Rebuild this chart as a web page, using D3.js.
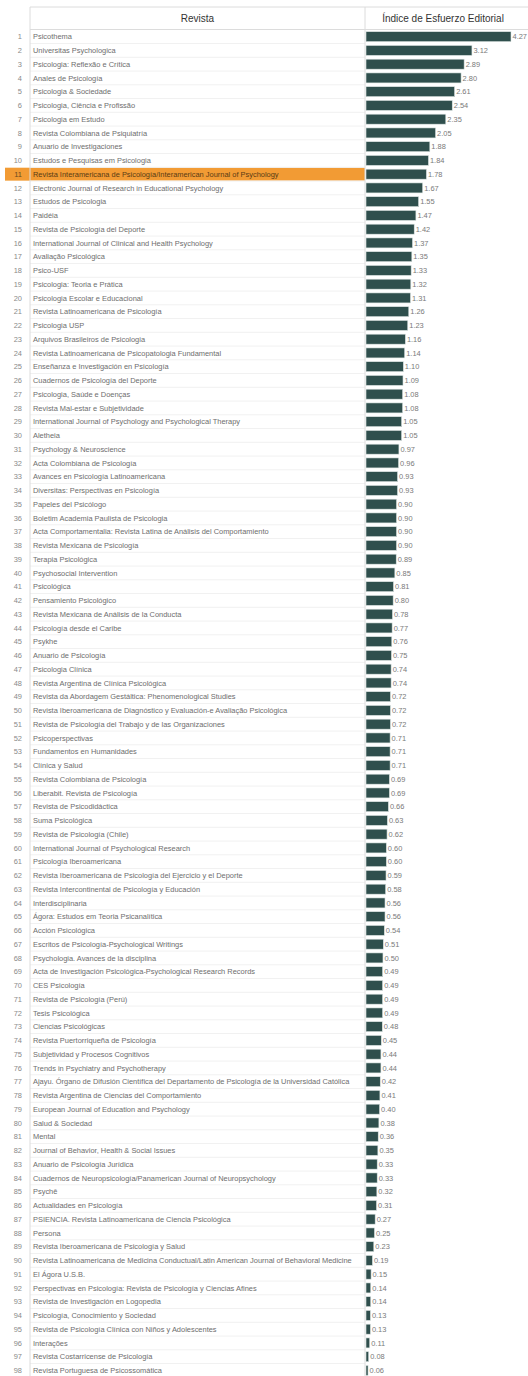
<!DOCTYPE html>
<html>
<head>
<meta charset="utf-8">
<script src="https://cdn.jsdelivr.net/npm/d3@7"></script>
<style>
  html, body { margin: 0; padding: 0; background: #fff; }
  svg { display: block; }
</style>
</head>
<body>
<svg id="chart" width="528" height="1376"></svg>
<script>
const headers = ["Revista", "Índice de Esfuerzo Editorial"];
const highlightRank = 11;
const journals = [
  "Psicothema",
  "Universitas Psychologica",
  "Psicologia: Reflexão e Crítica",
  "Anales de Psicología",
  "Psicologia & Sociedade",
  "Psicologia, Ciência e Profissão",
  "Psicologia em Estudo",
  "Revista Colombiana de Psiquiatría",
  "Anuario de Investigaciones",
  "Estudos e Pesquisas em Psicologia",
  "Revista Interamericana de Psicología/Interamerican Journal of Psychology",
  "Electronic Journal of Research in Educational Psychology",
  "Estudos de Psicologia",
  "Paidéia",
  "Revista de Psicología del Deporte",
  "International Journal of Clinical and Health Psychology",
  "Avaliação Psicológica",
  "Psico-USF",
  "Psicologia: Teoria e Prática",
  "Psicologia Escolar e Educacional",
  "Revista Latinoamericana de Psicología",
  "Psicologia USP",
  "Arquivos Brasileiros de Psicologia",
  "Revista Latinoamericana de Psicopatologia Fundamental",
  "Enseñanza e Investigación en Psicología",
  "Cuadernos de Psicología del Deporte",
  "Psicologia, Saúde e Doenças",
  "Revista Mal-estar e Subjetividade",
  "International Journal of Psychology and Psychological Therapy",
  "Aletheia",
  "Psychology & Neuroscience",
  "Acta Colombiana de Psicología",
  "Avances en Psicología Latinoamericana",
  "Diversitas: Perspectivas en Psicología",
  "Papeles del Psicólogo",
  "Boletim Academia Paulista de Psicologia",
  "Acta Comportamentalia: Revista Latina de Análisis del Comportamiento",
  "Revista Mexicana de Psicología",
  "Terapia Psicológica",
  "Psychosocial Intervention",
  "Psicológica",
  "Pensamiento Psicológico",
  "Revista Mexicana de Análisis de la Conducta",
  "Psicología desde el Caribe",
  "Psykhe",
  "Anuario de Psicología",
  "Psicologia Clínica",
  "Revista Argentina de Clínica Psicológica",
  "Revista da Abordagem Gestáltica: Phenomenological Studies",
  "Revista Iberoamericana de Diagnóstico y Evaluación-e Avaliação Psicológica",
  "Revista de Psicología del Trabajo y de las Organizaciones",
  "Psicoperspectivas",
  "Fundamentos en Humanidades",
  "Clínica y Salud",
  "Revista Colombiana de Psicología",
  "Liberabit. Revista de Psicología",
  "Revista de Psicodidáctica",
  "Suma Psicológica",
  "Revista de Psicología (Chile)",
  "International Journal of Psychological Research",
  "Psicología Iberoamericana",
  "Revista Iberoamericana de Psicología del Ejercicio y el Deporte",
  "Revista Intercontinental de Psicología y Educación",
  "Interdisciplinaria",
  "Ágora: Estudos em Teoria Psicanalítica",
  "Acción Psicológica",
  "Escritos de Psicología-Psychological Writings",
  "Psychologia. Avances de la disciplina",
  "Acta de Investigación Psicológica-Psychological Research Records",
  "CES Psicología",
  "Revista de Psicología (Perú)",
  "Tesis Psicológica",
  "Ciencias Psicológicas",
  "Revista Puertorriqueña de Psicología",
  "Subjetividad y Procesos Cognitivos",
  "Trends in Psychiatry and Psychotherapy",
  "Ajayu. Órgano de Difusión Científica del Departamento de Psicología de la Universidad Católica Boliviana San Pablo",
  "Revista Argentina de Ciencias del Comportamiento",
  "European Journal of Education and Psychology",
  "Salud & Sociedad",
  "Mental",
  "Journal of Behavior, Health & Social Issues",
  "Anuario de Psicología Jurídica",
  "Cuadernos de Neuropsicología/Panamerican Journal of Neuropsychology",
  "Psychê",
  "Actualidades en Psicología",
  "PSIENCIA. Revista Latinoamericana de Ciencia Psicológica",
  "Persona",
  "Revista Iberoamericana de Psicología y Salud",
  "Revista Latinoamericana de Medicina Conductual/Latin American Journal of Behavioral Medicine",
  "El Ágora U.S.B.",
  "Perspectivas en Psicología: Revista de Psicología y Ciencias Afines",
  "Revista de Investigación en Logopedia",
  "Psicología, Conocimiento y Sociedad",
  "Revista de Psicología Clínica con Niños y Adolescentes",
  "Interações",
  "Revista Costarricense de Psicología",
  "Revista Portuguesa de Psicossomática"
];
const values = [
  4.27, 3.12, 2.89, 2.80, 2.61, 2.54, 2.35, 2.05, 1.88, 1.84,
  1.78, 1.67, 1.55, 1.47, 1.42, 1.37, 1.35, 1.33, 1.32, 1.31,
  1.26, 1.23, 1.16, 1.14, 1.10, 1.09, 1.08, 1.08, 1.05, 1.05,
  0.97, 0.96, 0.93, 0.93, 0.90, 0.90, 0.90, 0.90, 0.89, 0.85,
  0.81, 0.80, 0.78, 0.77, 0.76, 0.75, 0.74, 0.74, 0.72, 0.72,
  0.72, 0.71, 0.71, 0.71, 0.69, 0.69, 0.66, 0.63, 0.62, 0.60,
  0.60, 0.59, 0.58, 0.56, 0.56, 0.54, 0.51, 0.50, 0.49, 0.49,
  0.49, 0.49, 0.48, 0.45, 0.44, 0.44, 0.42, 0.41, 0.40, 0.38,
  0.36, 0.35, 0.33, 0.33, 0.32, 0.31, 0.27, 0.25, 0.23, 0.19,
  0.15, 0.14, 0.14, 0.13, 0.13, 0.11, 0.08, 0.06
];
const ranks = journals.map((_, i) => i + 1);

const rows = ranks.map((r, i) => ({ rank: r, name: journals[i], value: values[i] }));

const svg = d3.select("#chart");
const W = 528;
const colLeft = 30, colDiv = 365, headTop = 7, headBottom = 29.5;
const font = "'Liberation Sans', Arial, sans-serif";
const fs = 7.45;

const y = d3.scaleBand().domain(ranks).range([29.8, 1377.3]).paddingInner(0);
const x = d3.scaleLinear().domain([0, d3.max(values)]).range([colDiv + 1, 511]);
const step = y.step();
const barH = 10;

// highlight row
const hl = rows.find(d => d.rank === highlightRank);
svg.append("rect")
  .attr("x", 5).attr("y", y(hl.rank) + 0.4)
  .attr("width", colDiv - 5).attr("height", step - 0.8)
  .attr("fill", "#f29b34");

// row separators
svg.append("g").selectAll("line").data(rows).join("line")
  .attr("x1", colLeft).attr("x2", colDiv)
  .attr("y1", d => y(d.rank) + step).attr("y2", d => y(d.rank) + step)
  .attr("stroke", "#f1f1f1").attr("stroke-width", 1);

// header frame
svg.append("line").attr("x1", colLeft).attr("x2", W).attr("y1", headTop).attr("y2", headTop)
  .attr("stroke", "#dcdcdc");
svg.append("line").attr("x1", colLeft).attr("x2", W).attr("y1", headBottom).attr("y2", headBottom)
  .attr("stroke", "#dcdcdc");
svg.append("line").attr("x1", colLeft).attr("x2", colLeft).attr("y1", headTop).attr("y2", 1376)
  .attr("stroke", "#dcdcdc");
svg.append("line").attr("x1", colDiv).attr("x2", colDiv).attr("y1", headTop).attr("y2", 1376)
  .attr("stroke", "#dcdcdc");

svg.append("text").attr("x", (colLeft + colDiv) / 2).attr("y", 22)
  .attr("text-anchor", "middle").attr("font-family", font).attr("font-size", 10)
  .attr("fill", "#333").text(headers[0]);
svg.append("text").attr("x", 443).attr("y", 22)
  .attr("text-anchor", "middle").attr("font-family", font).attr("font-size", 10)
  .attr("fill", "#333").text(headers[1]);

// rank numbers
svg.append("g").selectAll("text").data(rows).join("text")
  .attr("x", 22).attr("y", d => y(d.rank) + step / 2 + 2.6)
  .attr("text-anchor", "end").attr("font-family", font).attr("font-size", fs)
  .attr("fill", d => d.rank === highlightRank ? "#6a4a20" : "#8a8a8a")
  .text(d => d.rank);

// clip paths per row for names (wrapping)
const defs = svg.append("defs");
defs.selectAll("clipPath").data(rows).join("clipPath")
  .attr("id", d => "clip" + d.rank)
  .append("rect")
  .attr("x", colLeft).attr("y", d => y(d.rank) + 0.5)
  .attr("width", colDiv - colLeft - 1).attr("height", step - 1);

const nameG = svg.append("g");
const maxW = 324;
rows.forEach(d => {
  const t = nameG.append("text")
    .attr("clip-path", `url(#clip${d.rank})`)
    .attr("font-family", font).attr("font-size", fs)
    .attr("fill", d.rank === highlightRank ? "#5a3c14" : "#6e6e6e");
  const words = d.name.split(" ");
  let line = [];
  let lineNo = 0;
  let ts = t.append("tspan").attr("x", 33).attr("y", y(d.rank) + step / 2 + 2.6);
  words.forEach(w => {
    line.push(w);
    ts.text(line.join(" "));
    if (ts.node().getComputedTextLength() > maxW && line.length > 1) {
      line.pop();
      ts.text(line.join(" "));
      line = [w];
      lineNo++;
      ts = t.append("tspan").attr("x", 33).attr("y", y(d.rank) + step / 2 + 2.6 + lineNo * 9).text(w);
    }
  });
});

// bars
svg.append("g").selectAll("rect").data(rows).join("rect")
  .attr("x", x(0)).attr("y", d => y(d.rank) + (step - barH) / 2)
  .attr("width", d => x(d.value) - x(0)).attr("height", barH)
  .attr("fill", "#2f4f4d").attr("stroke", "#dfe6e5").attr("stroke-width", 0.6);

// value labels
svg.append("g").selectAll("text").data(rows).join("text")
  .attr("x", d => x(d.value) + 1.5).attr("y", d => y(d.rank) + step / 2 + 2.6)
  .attr("font-family", font).attr("font-size", fs).attr("fill", "#7a7a7a")
  .text(d => d3.format(".2f")(d.value));
</script>
</body>
</html>
